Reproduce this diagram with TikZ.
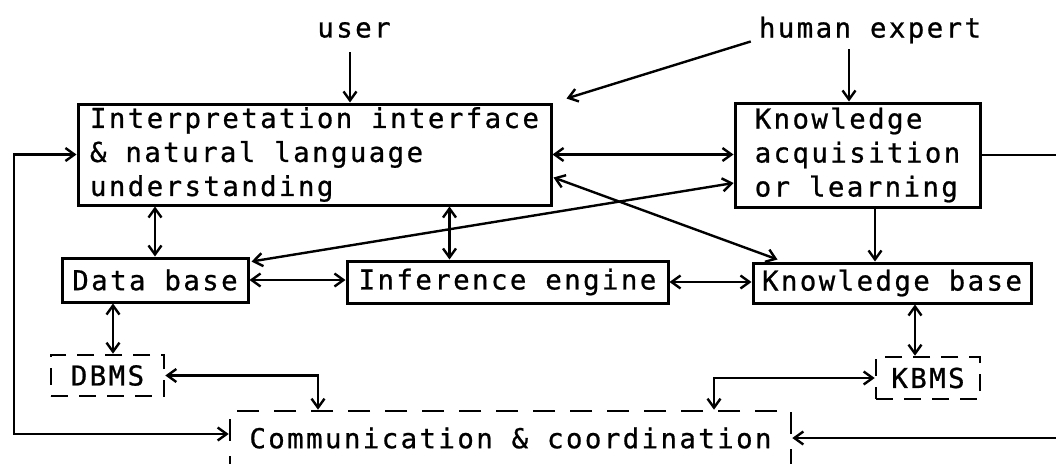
\documentclass[tikz,border=0pt]{standalone}
\usepackage{fontspec}
\newfontfamily\plotfont[LetterSpace=8.8,FakeBold=0.8]{DejaVu Sans Mono}
\usetikzlibrary{arrows.meta,calc}
\begin{document}
\begin{tikzpicture}[x=1pt,y=-1pt,
  font={\plotfont\fontsize{27.4}{34}\selectfont},
  box/.style={draw, line width=3pt, inner sep=0pt, align=left},
  dbox/.style={draw, line width=2.6pt, dash pattern=on 17pt off 11pt, inner sep=0pt},
  arr/.style={line width=2.4pt, -{Straight Barb[length=9pt,width=13pt]}},
  arrb/.style={line width=2.4pt, {Straight Barb[length=9pt,width=13pt]}-{Straight Barb[length=9pt,width=13pt]}},
  lbl/.style={inner sep=0pt}]
\useasboundingbox (0,0) rectangle (1056,463);
\clip (0,0) rectangle (1056,463);

% labels
\node[lbl] (user) at (354,30) {user};
\node[lbl] (hexp) at (870,30) {human expert};

% boxes
\node[box, minimum width=473pt, minimum height=101pt] (Interp) at (314.5,154.5)
  {Interpretation interface\\\& natural language\\understanding};
\node[box, minimum width=245pt, minimum height=104pt] (KA) at (857.5,155)
  {Knowledge\\acquisition\\or learning};
\node[box, minimum width=186pt, minimum height=44pt] (DB) at (155,280) {Data base};
\node[box, minimum width=321pt, minimum height=42pt] (Inf) at (507.5,282) {Inference engine};
\node[box, minimum width=278pt, minimum height=40pt] (KB) at (892,283) {Knowledge base};
\node[dbox, minimum width=113pt, minimum height=41pt] (DBMS) at (107.5,375.5) {DBMS};
\node[dbox, minimum width=104pt, minimum height=42pt] (KBMS) at (928,378) {KBMS};
\node[dbox, dash pattern=on 22pt off 15pt, minimum width=561pt, minimum height=54pt] (Comm) at (510.5,438) {Communication \& coordination};

% helper coordinates
\coordinate (uTop) at ($(user.south)+(-4,14)$);
\coordinate (hTop) at ($(hexp.south)+(-21,6)$);
\coordinate (hDiag) at ($(hexp.south west)+(-8,-2)$);
\coordinate (iTip) at ($(Interp.north east)+(14,-4)$);
\coordinate (ii) at ($(Inf.north)+(-58,0)$);
\coordinate (ka2) at ($(KA.south)+(17.5,0)$);
\coordinate (dd) at ($(DBMS.north)+(5.5,0)$);
\coordinate (kk) at ($(KBMS.north)+(-13,0)$);
\coordinate (c1) at (318,0);
\coordinate (c2) at (714,0);
\coordinate (lx) at (14,0);
\coordinate (rx) at (1062,0);
\coordinate (cwl) at ($(Comm.west)+(0,-4)$);
\coordinate (dbTip) at ($(DB.north east)+(2,5)$);
\coordinate (kaTip) at ($(KA.west)+(0,28)$);
\coordinate (inTip) at ($(Interp.east)+(1,23)$);
\coordinate (kbTip) at ($(KB.north west)+(26,-2)$);

% connectors
\draw[arr] (uTop) -- (uTop |- Interp.north);
\draw[arr] (hTop) -- (hTop |- KA.north);
\draw[arr] (hDiag) -- (iTip);
\draw[arrb] (Interp.east) -- (Interp.east -| KA.west);
\draw[arr] (KA.east) -- (KA.east -| rx) |- (Comm.east);
\draw[arrb] (Interp.west) -- (Interp.west -| lx) |- (cwl);
\draw[arrb] (DB.north) -- (DB.north |- Interp.south);
\draw[arrb] (ii) -- (ii |- Interp.south);
\draw[arrb] (dbTip) -- (kaTip);
\draw[arrb] (inTip) -- (kbTip);
\draw[arrb] (DB.east) -- (DB.east -| Inf.west);
\draw[arrb] (Inf.east) -- (Inf.east -| KB.west);
\draw[arr] (ka2) -- (ka2 |- KB.north);
\draw[arrb] (dd) -- (dd |- DB.south);
\draw[arrb] (DBMS.east) -| (c1 |- Comm.north);
\draw[arrb] (kk) -- (kk |- KB.south);
\draw[arrb] (KBMS.west) -| (c2 |- Comm.north);
\end{tikzpicture}
\end{document}
